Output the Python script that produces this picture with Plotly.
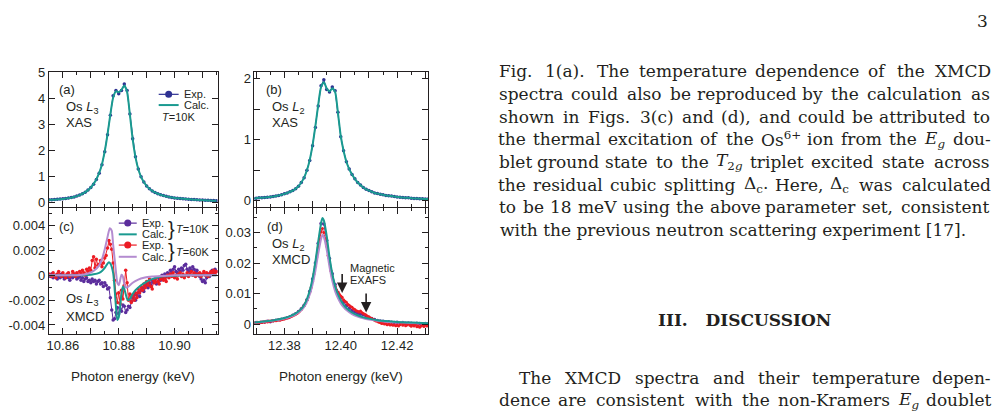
import re
import numpy as np
import plotly.graph_objects as go

# ---------------- DATA ----------------
# (a) Os L3 XAS, T=10K, energy grid 10.855..10.915 keV
xas_L3_exp = [0.10,0.10,0.11,0.12,0.13,0.14,0.15,0.17,0.19,0.21,0.24,0.28,0.33,0.39,0.47,0.57,0.70,0.88,1.12,1.45,
              1.95,2.60,3.35,4.10,4.30,4.18,4.30,4.55,4.30,3.40,2.45,1.75,1.28,0.98,0.78,0.63,0.52,0.44,0.38,0.33,
              0.29,0.26,0.23,0.21,0.19,0.17,0.16,0.15,0.14,0.13,0.12,0.11,0.11,0.10,0.09,0.09,0.08,0.08,0.07,0.07,0.06]
xas_L3_calc = [0.09,0.10,0.10,0.11,0.12,0.13,0.15,0.16,0.18,0.21,0.24,0.28,0.33,0.39,0.47,0.57,0.71,0.89,1.13,1.47,
               1.97,2.62,3.38,4.02,4.27,4.24,4.33,4.50,4.25,3.38,2.42,1.74,1.28,0.98,0.78,0.63,0.52,0.44,0.38,0.33,
               0.29,0.26,0.23,0.21,0.19,0.17,0.16,0.15,0.14,0.13,0.12,0.11,0.10,0.10,0.09,0.08,0.08,0.07,0.07,0.06,0.06]
L3_range = (10.855, 10.915)

# (b) Os L2 XAS, energy grid 12.369..12.431 keV
xas_L2_exp = [0.04,0.045,0.05,0.05,0.055,0.06,0.065,0.07,0.08,0.09,0.10,0.115,0.13,0.15,0.17,0.20,0.24,0.30,0.38,0.50,
              0.66,0.90,1.20,1.55,1.88,1.98,1.82,1.78,1.86,1.80,1.45,1.05,0.82,0.64,0.52,0.43,0.36,0.30,0.26,0.22,
              0.19,0.17,0.15,0.13,0.12,0.11,0.10,0.09,0.085,0.08,0.07,0.065,0.06,0.055,0.05,0.05,0.045,0.04,0.04,
              0.035,0.035,0.03,0.03]
xas_L2_calc = [0.04,0.045,0.05,0.05,0.055,0.06,0.065,0.07,0.08,0.09,0.10,0.115,0.13,0.15,0.17,0.20,0.24,0.30,0.38,0.50,
               0.67,0.91,1.22,1.57,1.86,1.94,1.84,1.79,1.84,1.78,1.44,1.06,0.82,0.64,0.52,0.43,0.36,0.30,0.26,0.22,
               0.19,0.17,0.15,0.13,0.12,0.11,0.10,0.09,0.085,0.08,0.07,0.065,0.06,0.055,0.05,0.05,0.045,0.04,0.04,
               0.035,0.035,0.03,0.03]
L2_range = (12.369, 12.431)

# (c) Os L3 XMCD (values in units of 1e-3), exp grid 10.855..10.915 step 0.0005
xmcd_L3_exp10K_m = [0.0,-0.1,0.1,-0.2,-0.1,0.0,-0.3,-0.1,-0.2,0.1,-0.1,-0.3,-0.2,0.0,-0.2,-0.4,-0.1,-0.2,0.1,-0.1,
                    -0.3,-0.2,-0.1,-0.4,-0.2,-0.5,-0.3,-0.2,-0.5,-0.4,-0.6,-0.3,-0.5,-0.4,-0.7,-0.5,-0.4,-0.7,-0.6,-0.9,
                    -0.6,-0.8,-1.1,-1.0,-1.8,-2.8,-3.6,-3.5,-3.0,-2.6,-3.1,-2.7,-2.9,-2.4,-2.5,-3.0,-2.8,-2.5,-2.6,-2.1,
                    -1.8,-1.5,-2.0,-1.6,-1.4,-1.7,-1.2,-1.0,-1.3,-0.9,-0.7,-1.0,-0.6,-0.8,-0.4,-0.6,-0.3,-0.7,-0.5,-0.2,
                    -0.4,0.0,-0.2,0.1,-0.1,0.2,0.0,0.4,0.2,0.5,0.7,0.3,0.2,0.5,0.3,0.6,0.4,0.8,0.9,0.5,
                    0.3,0.6,0.4,0.7,0.5,0.2,0.4,0.1,-0.1,-0.3,-0.5,-0.4,-0.6,-0.2,0.1,-0.1,0.2,0.4,0.1,0.5,0.3]
xmcd_L3_exp60K_m = [0.1,0.0,-0.1,0.2,0.0,-0.2,0.1,0.3,0.0,-0.1,0.2,0.0,-0.2,0.1,0.2,-0.1,0.0,0.3,0.1,-0.1,
                    0.2,0.0,0.3,0.1,0.4,0.2,0.0,0.5,0.3,0.6,0.4,1.2,1.5,0.6,1.3,0.8,0.9,1.2,0.7,1.0,
                    1.4,1.6,2.2,2.8,2.5,2.1,1.0,-0.4,-1.5,-2.2,-1.4,-2.3,-1.2,-1.9,-0.8,0.4,-0.6,-2.0,-1.5,-2.2,
                    -1.6,-2.0,-1.4,-1.8,-1.1,-1.4,-0.9,-1.2,-0.7,-1.0,-0.5,-0.8,-0.3,-0.9,-1.1,-0.4,-0.6,-0.2,-0.5,-0.7,
                    -0.3,-0.1,-0.4,-0.2,-0.5,0.0,-0.2,0.1,-0.1,0.2,-0.2,0.0,-0.3,0.1,0.2,-0.1,0.1,-0.2,0.0,0.2,
                    -0.1,0.1,0.3,0.0,0.2,-0.1,0.1,0.0,0.2,-0.1,0.1,0.3,0.0,0.2,-0.1,0.1,0.3,0.2,0.4,0.1,0.3]
xmcd_L3_calc_E = [10.855,10.862,10.866,10.869,10.871,10.873,10.874,10.875,10.876,10.8765,10.877,10.878,10.879,
                  10.8795,10.880,10.881,10.8815,10.882,10.883,10.8835,10.884,10.885,10.886,10.888,10.890,10.892,
                  10.894,10.896,10.900,10.905,10.915]
xmcd_L3_calc10K_m = [0.0,0.0,0.0,0.02,0.08,0.2,0.35,0.6,0.95,1.05,0.95,0.2,-2.5,-3.6,-3.4,-1.5,-0.9,-1.1,-1.9,-2.0,
                     -1.9,-1.5,-1.2,-0.8,-0.5,-0.3,-0.15,-0.08,-0.03,0.0,0.0]
xmcd_L3_calc60K_E = [10.855,10.862,10.866,10.869,10.871,10.873,10.874,10.875,10.876,10.8768,10.8775,10.878,10.879,
                     10.8795,10.880,10.8805,10.881,10.8815,10.882,10.8828,10.8835,10.885,10.887,10.889,10.892,
                     10.896,10.900,10.915]
xmcd_L3_calc60K_m = [0.0,0.0,0.02,0.15,0.35,0.8,1.3,2.1,3.1,3.8,3.6,2.5,0.3,-0.6,-0.8,-0.4,0.05,-0.1,-0.7,-1.0,
                     -0.9,-0.6,-0.35,-0.2,-0.1,-0.05,0.0,0.0]

# (d) Os L2 XMCD (units of 1e-3)
xmcd_L2_exp10K_m = [0.3,0.5,0.4,0.6,0.7,0.9,0.8,1.1,1.3,1.4,1.6,1.8,2.1,2.4,2.9,3.4,4.1,5.0,6.2,8.0,
                    10.8,14.8,20.0,26.5,33.0,32.8,27.5,21.5,16.5,13.0,10.4,8.6,7.2,6.1,5.2,4.5,3.9,3.5,3.2,3.1,
                    2.6,2.2,1.8,1.5,1.2,1.0,0.9,0.7,0.8,0.6,0.5,0.6,0.4,0.5,0.3,0.4,0.3,0.2,0.3,0.2,0.1,0.2,0.1]
xmcd_L2_exp60K_m = [0.2,0.5,0.3,0.6,0.4,0.7,0.5,0.8,0.6,0.9,0.7,1.0,0.9,1.1,1.0,1.2,1.1,1.3,1.4,1.3,
                    1.5,1.6,1.7,1.9,2.0,2.1,2.3,2.5,2.7,3.0,3.2,3.5,3.9,4.3,4.8,5.4,6.0,6.8,7.8,8.9,
                    10.3,12.0,14.0,16.4,19.0,22.0,25.0,28.0,30.2,31.3,30.0,28.0,25.5,22.5,20.0,17.5,15.5,13.8,12.4,11.3,
                    10.5,9.8,9.2,8.8,8.0,7.5,7.2,6.5,6.2,5.8,5.5,5.0,4.8,4.4,4.2,4.0,4.3,3.8,3.5,3.2,
                    3.0,2.6,2.4,2.0,1.8,1.5,1.3,1.0,0.9,0.6,0.5,0.2,0.3,0.0,0.1,-0.2,0.0,-0.3,-0.1,-0.4,
                    -0.2,-0.5,-0.3,-0.6,-0.2,0.3,-0.4,0.1,-0.5,-0.3,0.2,-0.4,-0.7,-0.2,-0.6,-0.3,-0.9,-0.5,-1.0,-0.6,
                    -0.4,-0.8,-0.3,-0.6,-0.5]
xmcd_L2_calc_E = [12.369,12.372,12.375,12.378,12.380,12.382,12.384,12.386,12.387,12.388,12.389,12.390,12.391,
                  12.392,12.393,12.3935,12.394,12.395,12.396,12.397,12.398,12.399,12.400,12.401,12.402,12.404,
                  12.406,12.408,12.410,12.413,12.416,12.420,12.425,12.431]
xmcd_L2_calc10K_m = [0.5,0.8,1.1,1.6,2.0,2.6,3.5,5.0,6.3,8.2,11.0,15.0,20.5,27.0,33.0,34.8,34.0,29.0,22.0,16.5,
                     12.5,9.8,7.8,6.4,5.3,3.8,2.9,2.2,1.8,1.3,1.0,0.7,0.5,0.3]
xmcd_L2_calc60K_m = [0.4,0.7,1.0,1.4,1.8,2.4,3.2,4.5,5.6,7.3,9.7,13.0,17.5,23.0,27.8,29.3,28.6,24.5,18.8,14.2,
                     10.8,8.5,6.8,5.6,4.6,3.3,2.5,1.9,1.5,1.1,0.8,0.6,0.4,0.3]

arrow_E = [12.4005, 12.409]          # magnetic EXAFS arrows (tip energies)
arrow_tip = [0.0102, 0.0038]
arrow_tail = [0.0169, 0.0105]

# ---------------- STYLE ----------------
W, H = 995, 412
NAVY = "#2e3192"
TEAL = "#1a9a90"
PURP = "#5b2d9c"
RED = "#ec1c24"
LAV = "#b48cd0"
INK = "#231f20"
SANS = "Liberation Sans, Arial, sans-serif"
SERIF = "DejaVu Serif, serif"

def px(x):
    return x / W

def py(y):
    return 1 - y / H

def grid(rng, vals):
    return np.linspace(rng[0], rng[1], len(vals))

def milli(v):
    return np.array(v) / 1000.0

fig = go.Figure()

def exp_trace(x, y, color, xa, ya, size=3.5):
    return go.Scatter(x=x, y=y, mode="lines+markers", xaxis=xa, yaxis=ya,
                      line=dict(color=color, width=1), marker=dict(color=color, size=size),
                      showlegend=False, hoverinfo="skip")

def calc_trace(x, y, color, xa, ya, width=2):
    return go.Scatter(x=x, y=y, mode="lines", xaxis=xa, yaxis=ya,
                      line=dict(color=color, width=width, shape="spline", smoothing=0.6),
                      showlegend=False, hoverinfo="skip")

# (a)
fig.add_trace(exp_trace(grid(L3_range, xas_L3_exp), xas_L3_exp, NAVY, "x", "y"))
fig.add_trace(calc_trace(grid(L3_range, xas_L3_calc), xas_L3_calc, TEAL, "x", "y"))
# (b)
fig.add_trace(exp_trace(grid(L2_range, xas_L2_exp), xas_L2_exp, NAVY, "x2", "y2"))
fig.add_trace(calc_trace(grid(L2_range, xas_L2_calc), xas_L2_calc, TEAL, "x2", "y2"))
# (c)
fig.add_trace(exp_trace(grid(L3_range, xmcd_L3_exp10K_m), milli(xmcd_L3_exp10K_m), PURP, "x3", "y3"))
fig.add_trace(exp_trace(grid(L3_range, xmcd_L3_exp60K_m), milli(xmcd_L3_exp60K_m), RED, "x3", "y3"))
fig.add_trace(calc_trace(xmcd_L3_calc_E, milli(xmcd_L3_calc10K_m), TEAL, "x3", "y3"))
fig.add_trace(calc_trace(xmcd_L3_calc60K_E, milli(xmcd_L3_calc60K_m), LAV, "x3", "y3"))
# (d)
fig.add_trace(exp_trace(grid(L2_range, xmcd_L2_exp10K_m), milli(xmcd_L2_exp10K_m), PURP, "x4", "y4"))
fig.add_trace(exp_trace(grid(L2_range, xmcd_L2_exp60K_m), milli(xmcd_L2_exp60K_m), RED, "x4", "y4", size=3))
fig.add_trace(calc_trace(xmcd_L2_calc_E, milli(xmcd_L2_calc60K_m), LAV, "x4", "y4"))
fig.add_trace(calc_trace(xmcd_L2_calc_E, milli(xmcd_L2_calc10K_m), TEAL, "x4", "y4"))

# ---------------- AXES ----------------
xl = [px(47), px(216)]
xr = [px(253), px(427)]
yt = [py(205), py(67)]
yb = [py(335), py(206.5)]

def xaxis(domain, anchor, rng, vals, texts, minor_dt):
    return dict(domain=domain, anchor=anchor, range=list(rng), tickmode="array", tickvals=vals,
                ticktext=texts, ticks="inside", ticklen=6, tickwidth=1, tickcolor=INK,
                showline=True, linecolor=INK, linewidth=1, mirror="allticks", showgrid=False,
                zeroline=False, tickfont=dict(family=SANS, size=13, color=INK),
                minor=dict(dtick=minor_dt, ticks="inside", ticklen=3, tickcolor=INK, showgrid=False))

def yaxis(domain, anchor, rng, vals, texts, minor_dt):
    return dict(domain=domain, anchor=anchor, range=list(rng), tickmode="array", tickvals=vals,
                ticktext=texts, ticks="inside", ticklen=6, tickwidth=1, tickcolor=INK,
                showline=True, linecolor=INK, linewidth=1, mirror="allticks", showgrid=False,
                zeroline=False, tickfont=dict(family=SANS, size=13, color=INK),
                minor=dict(dtick=minor_dt, ticks="inside", ticklen=3, tickcolor=INK, showgrid=False) if minor_dt else None)

x_L3_ticks = [10.86, 10.87, 10.88, 10.89, 10.90, 10.91]
x_L3_text = ["10.86", "", "10.88", "", "10.90", ""]
x_L2_ticks = [12.37, 12.38, 12.39, 12.40, 12.41, 12.42, 12.43]
x_L2_text = ["", "12.38", "", "12.40", "", "12.42", ""]

fig.update_layout(
    xaxis=xaxis(xl, "y", (10.855, 10.9154), x_L3_ticks, [""] * 6, 0.005),
    xaxis2=xaxis(xr, "y2", (12.3694, 12.431), x_L2_ticks, [""] * 7, 0.005),
    xaxis3=xaxis(xl, "y3", (10.855, 10.9154), x_L3_ticks, x_L3_text, 0.005),
    xaxis4=xaxis(xr, "y4", (12.3694, 12.431), x_L2_ticks, x_L2_text, 0.005),
    yaxis=yaxis(yt, "x", (-0.18, 5.0), [0, 1, 2, 3, 4, 5], ["0", "1", "2", "3", "4", "5"], None),
    yaxis2=yaxis(yt, "x2", (-0.1, 2.1), [0, 0.5, 1, 1.5, 2], ["0", "", "1", "", "2"], None),
    yaxis3=yaxis(yb, "x3", (-0.00472, 0.00539), [-0.004, -0.002, 0, 0.002, 0.004],
                 ["-0.004", "-0.002", "0", "0.002", "0.004"], 0.001),
    yaxis4=yaxis(yb, "x4", (-0.0032, 0.0379), [0, 0.01, 0.02, 0.03],
                 ["0", "0.01", "0.02", "0.03"], 0.005),
    width=W, height=H, margin=dict(l=0, r=0, t=0, b=0),
    paper_bgcolor="white", plot_bgcolor="white", showlegend=False,
)

ann = []
shapes = []

def text(x, y, s, size=13, family=SANS, xanchor="left", color=INK, yanchor="middle"):
    ann.append(dict(x=px(x), y=py(y), xref="paper", yref="paper", text=s, showarrow=False,
                    xanchor=xanchor, yanchor=yanchor, font=dict(family=family, size=size, color=color)))

# panel labels
text(55, 85, "(a)", 13)
text(62, 103, "Os <i>L</i><sub>3</sub>", 13)
text(62, 118, "XAS", 13)
text(263, 85, "(b)", 13)
text(269, 103, "Os <i>L</i><sub>2</sub>", 13)
text(269, 118, "XAS", 13)
text(55, 225, "(c)", 13)
text(62, 300, "Os <i>L</i><sub>3</sub>", 13)
text(62, 317, "XMCD", 13)
text(264, 225, "(d)", 13)
text(269, 243, "Os <i>L</i><sub>2</sub>", 13)
text(269, 259, "XMCD", 13)

# axis titles
text(131, 379, "Photon energy (keV)", 13.5, xanchor="center")
text(340, 379, "Photon energy (keV)", 13.5, xanchor="center")

# Magnetic EXAFS
text(347, 267, "Magnetic", 11)
text(347, 280, "EXAFS", 11)
for e, tip, tail in zip(arrow_E, arrow_tip, arrow_tail):
    ann.append(dict(x=e, y=tip, ax=e, ay=tail, xref="x4", yref="y4", axref="x4", ayref="y4",
                    text="", showarrow=True, arrowhead=2, arrowsize=1.3, arrowwidth=1.6,
                    arrowcolor=INK))

# legend (a)
def leg_line(x0, x1, y, color, width):
    shapes.append(dict(type="line", xref="paper", yref="paper", x0=px(x0), x1=px(x1), y0=py(y), y1=py(y),
                       line=dict(color=color, width=width)))

def leg_dot(x, y, color, r=3.5):
    shapes.append(dict(type="circle", xref="paper", yref="paper", xsizemode="pixel", ysizemode="pixel",
                       xanchor=px(x), yanchor=py(y), x0=-r, x1=r, y0=-r, y1=r,
                       fillcolor=color, line=dict(color=color, width=0)))

leg_line(157, 177, 89.5, NAVY, 1.2)
leg_dot(167, 89.5, NAVY)
leg_line(157, 177, 100.5, TEAL, 2)
text(180, 89.5, "Exp.", 11)
text(180, 100.5, "Calc.", 11)
text(158, 112.5, "<i>T</i>=10K", 11)

# legend (c)
leg_line(117, 135, 221.5, PURP, 1.2)
leg_dot(126, 221.5, PURP)
leg_line(117, 135, 233, TEAL, 2)
leg_line(117, 135, 244, RED, 1.2)
leg_dot(126, 244, RED)
leg_line(117, 135, 256, LAV, 2)
text(138, 221.5, "Exp.", 11)
text(138, 233, "Calc.", 11)
text(138, 244, "Exp.", 11)
text(138, 256, "Calc.", 11)
text(164, 227.5, "}", 20)
text(164, 250.5, "}", 20)
text(172, 228, "<i>T</i>=10K", 11)
text(172, 251.5, "<i>T</i>=60K", 11)

# ---------------- right-hand page text ----------------
BODY_SIZE = 17
NARROW = set("iljI.,:;'|!")
MEDIUM = set("ftr()[]-")

def char_w(ch):
    if ch in NARROW:
        return 0.32
    if ch in MEDIUM:
        return 0.41
    if ch in "mwMW":
        return 0.92
    if ch.isupper() or ch == "Δ":
        return 0.74
    if ch.isdigit() or ch == "+":
        return 0.64
    return 0.59

def est_width(word, size):
    w = 0.0
    scale = 1.0
    for tok in re.split(r"(<[^>]+>)", word):
        if tok.startswith("<"):
            t = tok.lower()
            if t in ("<sub>", "<sup>"):
                scale = 0.7
            elif t in ("</sub>", "</sup>"):
                scale = 1.0
            continue
        for ch in tok:
            w += char_w(ch) * scale
    return w * size

def justified(line, x0, x1, y, size=BODY_SIZE):
    words = [w for w in line.split(" ") if w != ""]
    widths = [est_width(w, size) for w in words]
    gap = (x1 - x0 - sum(widths)) / (len(words) - 1)
    cur = x0
    for w, wd in zip(words, widths):
        text(cur + wd / 2, y, w, size, family=SERIF, xanchor="center")
        cur += wd + gap

body = [
    "Fig. 1(a).  The temperature dependence of the XMCD",
    "spectra could also be reproduced by the calculation as",
    "shown in Figs. 3(c) and (d), and could be attributed to",
    "the thermal excitation of the Os<sup>6+</sup> ion from the <i>E<sub>g</sub></i> dou-",
    "blet ground state to the <i>T</i><sub>2<i>g</i></sub> triplet excited state across",
    "the residual cubic splitting Δ<sub>c</sub>. Here, Δ<sub>c</sub> was calculated",
    "to be 18 meV using the above parameter set, consistent",
]
for i, line in enumerate(body):
    justified(line, 498, 990, 66 + 23.2 * i)
text(497, 66 + 23.2 * 7, "with the previous neutron scattering experiment [17].", BODY_SIZE, family=SERIF)

text(744, 321, "<b>III.   DISCUSSION</b>", 17, family=SERIF, xanchor="center")
justified("The XMCD spectra and their temperature depen-", 518, 990, 380)
justified("dence are consistent with the non-Kramers <i>E<sub>g</sub></i> doublet", 498, 990, 403)
text(990, 14, "3", 17, family=SERIF, xanchor="right")

fig.update_layout(annotations=ann, shapes=shapes)
fig.write_html("out.html")
